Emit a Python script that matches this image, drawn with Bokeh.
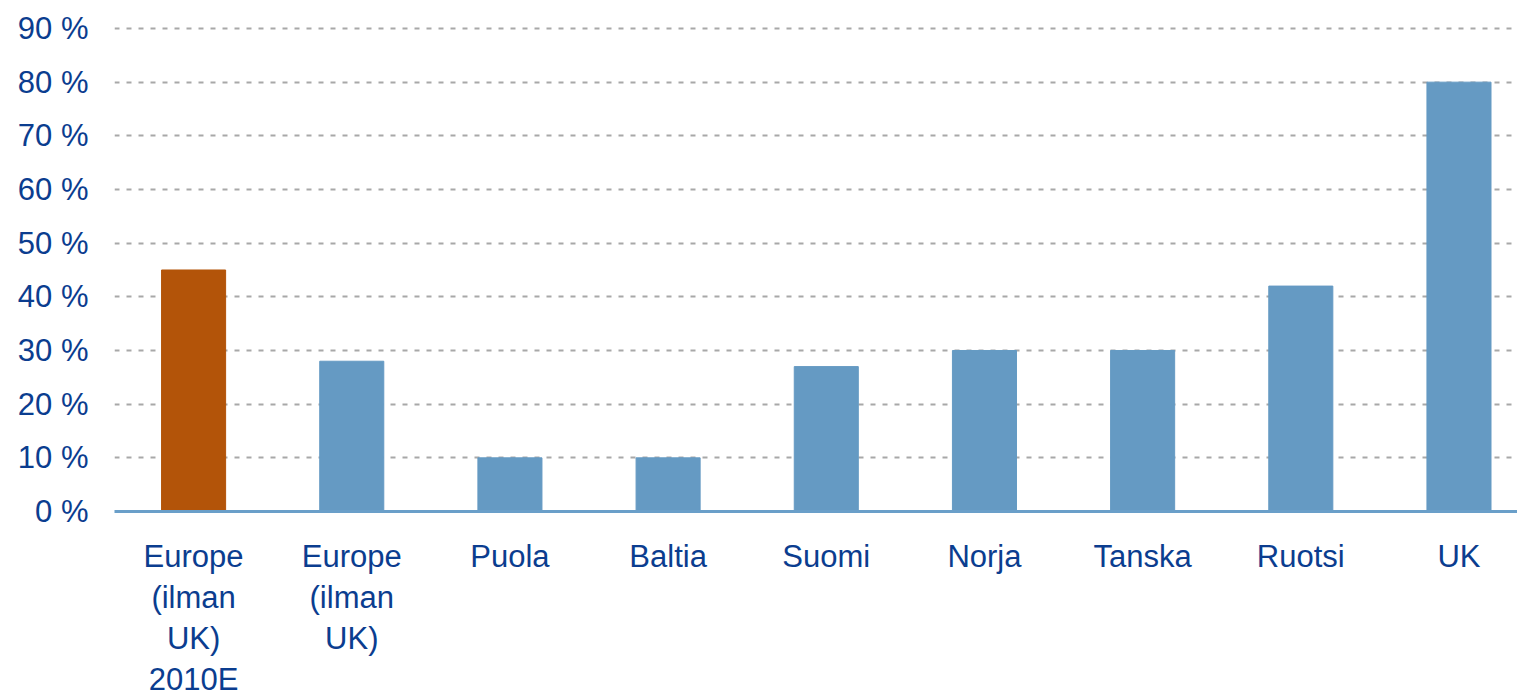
from bokeh.plotting import figure
from bokeh.models import Range1d, FixedTicker, PrintfTickFormatter, ColumnDataSource
from bokeh.embed import file_html
from bokeh.resources import INLINE

categories = ["Europe\n(ilman\nUK)\n2010E", "Europe\n(ilman\nUK)", "Puola", "Baltia",
              "Suomi", "Norja", "Tanska", "Ruotsi", "UK"]
values = [45, 28, 10, 10, 27, 30, 30, 42, 80]
bar_colors = ["#b35409", "#659ac3", "#659ac3", "#659ac3", "#659ac3",
              "#659ac3", "#659ac3", "#659ac3", "#659ac3"]
y_ticks = [0, 10, 20, 30, 40, 50, 60, 70, 80, 90]

idx = list(range(len(categories)))
src = ColumnDataSource(dict(x=idx, top=values, color=bar_colors))

TEXT = "#0b3d8f"
FONT = "Liberation Sans"

p = figure(width=1517, height=700, output_backend="svg", toolbar_location=None,
           x_range=Range1d(-0.5, 8.37), y_range=Range1d(0, 90.37),
           min_border_left=114, min_border_top=26, min_border_right=0,
           min_border_bottom=10)
p.outline_line_color = None
p.background_fill_color = "white"
p.border_fill_color = "white"

p.vbar(x="x", top="top", bottom=0, width=0.405, color="color", source=src)

p.xgrid.grid_line_color = None
p.ygrid.grid_line_color = "#a8a8a8"
p.ygrid.grid_line_width = 2
p.ygrid.grid_line_dash = "5 7"
p.ygrid.ticker = FixedTicker(ticks=y_ticks)

xa = p.xaxis[0]
xa.ticker = FixedTicker(ticks=idx)
xa.major_label_overrides = {i: c for i, c in zip(idx, categories)}
xa.axis_line_color = "#6a9fc9"
xa.axis_line_width = 3
xa.major_tick_line_color = None
xa.minor_tick_line_color = None
xa.major_tick_out = 0
xa.major_tick_in = 0
xa.major_label_standoff = 27
xa.major_label_text_font = FONT
xa.major_label_text_font_size = "31px"
xa.major_label_text_color = TEXT
xa.major_label_text_line_height = 1.18

ya = p.yaxis[0]
ya.ticker = FixedTicker(ticks=y_ticks)
ya.formatter = PrintfTickFormatter(format="%d %%")
ya.axis_line_color = None
ya.major_tick_line_color = None
ya.minor_tick_line_color = None
ya.major_tick_out = 0
ya.major_tick_in = 0
ya.major_label_standoff = 26
ya.major_label_text_font = FONT
ya.major_label_text_font_size = "31px"
ya.major_label_text_color = TEXT

open("out.html", "w").write(file_html(p, INLINE))
